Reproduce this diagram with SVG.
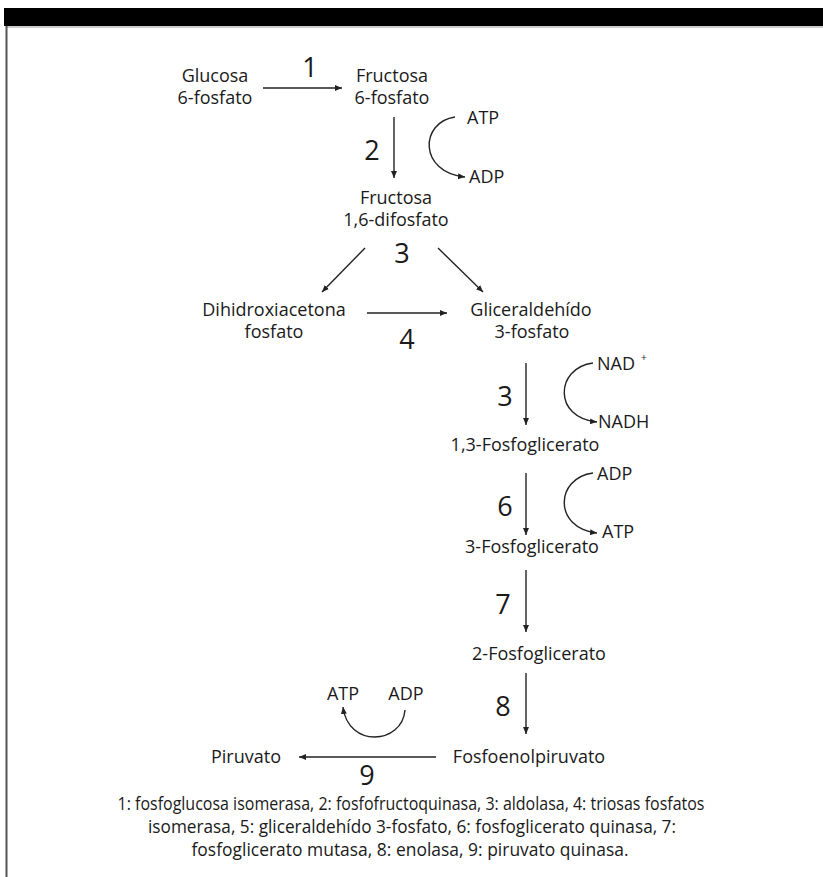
<svg xmlns="http://www.w3.org/2000/svg" width="823" height="877" viewBox="0 0 823 877">
<style>
.t{font-family:"Open Sans","Liberation Sans",sans-serif;font-size:18px;fill:#1a1a1a;text-anchor:middle}
.l{text-anchor:start}
.n{font-family:"Open Sans","Liberation Sans",sans-serif;font-size:27px;fill:#1a1a1a;text-anchor:middle}
.c{font-family:"Liberation Sans Narrow","Open Sans","Liberation Sans",sans-serif;font-size:18px;fill:#1a1a1a;text-anchor:middle}
.a{fill:none;stroke:#222;stroke-width:1.4;marker-end:url(#ah)}
</style>
<defs>
<marker id="ah" markerUnits="userSpaceOnUse" markerWidth="10" markerHeight="10" refX="7" refY="3" orient="auto">
<path d="M0,0 L7,3 L0,6 Z" fill="#222"/>
</marker>
</defs>
<rect x="0" y="0" width="823" height="877" fill="#fff"/>
<rect x="4" y="8" width="819" height="18" fill="#000"/>
<line x1="6" y1="27" x2="823" y2="27" stroke="#999" stroke-width="1"/>
<line x1="6.5" y1="26" x2="6.5" y2="877" stroke="#555" stroke-width="2"/>

<g id="connectors">
<path class="a" d="M263,88 L342,88"/>
<path class="a" d="M394,117 L394,178"/>
<path class="a" d="M455,117 C420,122 418,172 465,177"/>
<path class="a" d="M365,248 L322,292"/>
<path class="a" d="M438,248 L483,292"/>
<path class="a" d="M367,313 L447,313"/>
<path class="a" d="M526,363 L526,425"/>
<path class="a" d="M593,363 C555,368 553,418 597,422"/>
<path class="a" d="M526,473 L526,535"/>
<path class="a" d="M593,473 C555,478 553,528 597,533"/>
<path class="a" d="M526,570 L526,632"/>
<path class="a" d="M526,673 L526,734"/>
<path class="a" d="M436,757 L299,757"/>
<path class="a" d="M405,710 C402,745 348,748 343,707"/>
</g>

<g id="glucosa6p"><text class="t" x="215" y="82">Glucosa</text><text class="t" x="215" y="104">6-fosfato</text></g>
<g id="fructosa6p"><text class="t" x="392" y="82">Fructosa</text><text class="t" x="392" y="104">6-fosfato</text></g>
<g id="fructosa16"><text class="t" x="396" y="204">Fructosa</text><text class="t" x="396" y="226">1,6-difosfato</text></g>
<g id="dhap"><text class="t" x="274" y="316">Dihidroxiacetona</text><text class="t" x="274" y="338">fosfato</text></g>
<g id="gap"><text class="t" x="531" y="316">Gliceraldehído</text><text class="t" x="532" y="338">3-fosfato</text></g>
<g id="bpg13"><text class="t" x="525" y="451">1,3-Fosfoglicerato</text></g>
<g id="pg3"><text class="t" x="532" y="553">3-Fosfoglicerato</text></g>
<g id="pg2"><text class="t" x="539" y="660">2-Fosfoglicerato</text></g>
<g id="pep"><text class="t" x="529" y="763">Fosfoenolpiruvato</text></g>
<g id="piruvato"><text class="t" x="246" y="763">Piruvato</text></g>

<g id="cofactors">
<text class="t l" x="467" y="124">ATP</text>
<text class="t l" x="469" y="183">ADP</text>
<text class="t l" x="597" y="370">NAD</text>
<text class="t l" x="641" y="361" style="font-size:10px">+</text>
<text class="t l" x="598" y="428">NADH</text>
<text class="t l" x="597" y="480">ADP</text>
<text class="t l" x="602" y="538">ATP</text>
<text class="t" x="343" y="700">ATP</text>
<text class="t" x="406" y="700">ADP</text>
</g>

<g id="enzymes">
<text class="n" x="310" y="77">1</text>
<text class="n" x="372" y="160">2</text>
<text class="n" x="402" y="263">3</text>
<text class="n" x="407" y="349">4</text>
<text class="n" x="505" y="406">3</text>
<text class="n" x="505" y="516">6</text>
<text class="n" x="503" y="614">7</text>
<text class="n" x="503" y="716">8</text>
<text class="n" x="367" y="785">9</text>
</g>

<g id="caption">
<text class="c" x="411" y="810" textLength="587" lengthAdjust="spacingAndGlyphs">1: fosfoglucosa isomerasa, 2: fosfofructoquinasa, 3: aldolasa, 4: triosas fosfatos</text>
<text class="c" x="412" y="833" textLength="528" lengthAdjust="spacingAndGlyphs">isomerasa, 5: gliceraldehído 3-fosfato, 6: fosfoglicerato quinasa, 7:</text>
<text class="c" x="410" y="856" textLength="437" lengthAdjust="spacingAndGlyphs">fosfoglicerato mutasa, 8: enolasa, 9: piruvato quinasa.</text>
</g>
</svg>
